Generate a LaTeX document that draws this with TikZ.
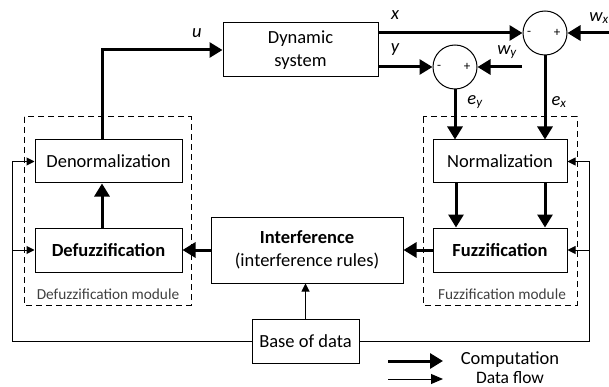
\documentclass[tikz,border=0pt]{standalone}
\usepackage{fontspec}
\setmainfont{Carlito}
\usetikzlibrary{arrows.meta}
\tikzset{
  block/.style={draw, line width=1pt, inner sep=0pt, align=center, font=\fontsize{18.5}{23.5}\selectfont},
  sumnode/.style={draw, circle, line width=1pt, minimum size=44pt, inner sep=0pt},
  module/.style={draw, line width=1pt, dash pattern=on 6pt off 4pt},
  comp/.style={line width=3pt, -{Triangle[length=13pt 0 0,width=15pt 0 0]}},
  flow/.style={line width=1pt, -{Triangle[length=8pt 0 0,width=8pt 0 0]}},
  lbl/.style={font=\fontsize{18.5}{22}\selectfont\itshape, inner sep=0pt},
  sgn/.style={font=\fontsize{13}{13}\selectfont, inner sep=0pt},
  modlbl/.style={font=\fontsize{15.3}{18}\selectfont, text=black!75, inner sep=0pt}
}
\begin{document}
\begin{tikzpicture}[x=1pt, y=-1pt]
    \useasboundingbox (0,0) rectangle (609,387);

    \draw[module] (24,117) rectangle (191,305);
    \draw[module] (423,117) rectangle (577,305);
    \node[modlbl] (defmod) at (108,294) {Defuzzification module};
    \node[modlbl] (fuzmod) at (502,294) {Fuzzification module};

    \node[block, minimum width=155pt, minimum height=54pt] (dyn) at (300.5,50) {Dynamic\\system};
    \node[block, minimum width=147pt, minimum height=43pt] (denorm) at (108.5,161.5) {Denormalization};
    \node[block, minimum width=147pt, minimum height=44pt] (defuzz) at (108.5,250) {\textbf{Defuzzification}};
    \node[block, minimum width=192pt, minimum height=66pt] (interf) at (307,250) {\textbf{Interference}\\(interference rules)};
    \node[block, minimum width=107pt, minimum height=44pt] (base) at (305.5,341) {Base of data};
    \node[block, minimum width=134pt, minimum height=43pt] (norm) at (500,161.5) {Normalization};
    \node[block, minimum width=134pt, minimum height=44pt] (fuzz) at (500,250) {\textbf{Fuzzification}};

    \node[sumnode] (sumx) at (545,33) {};
    \node[sumnode] (sumy) at (455,67) {};
    \node[sgn] at ([xshift=-16pt]sumx.center) {-};
    \node[sgn] at ([xshift=12pt]sumx.center) {+};
    \node[sgn] at ([xshift=-16pt]sumy.center) {-};
    \node[sgn] at ([xshift=12pt]sumy.center) {+};

    \coordinate (wxin) at (609,33);
    \coordinate (wyin) at (522,67);
    \coordinate (lbus) at (12,341);
    \coordinate (rbus) at (589,341);

    \node[lbl] (ulbl) at (197,33) {u};
    \node[lbl] (xlbl) at (395,15) {x};
    \node[lbl] (ylbl) at (395,50) {y};
    \node[lbl] (wxlbl) at (599,18) {w\textsubscript{x}};
    \node[lbl] (wylbl) at (507,52) {w\textsubscript{y}};
    \node[lbl] (eylbl) at (475,102) {e\textsubscript{y}};
    \node[lbl] (exlbl) at (559,102) {e\textsubscript{x}};

    \draw[comp] ([xshift=-6.5pt]denorm.north) |- (dyn.west);
    \draw[comp] ([xshift=-6.5pt]defuzz.north) -- ([xshift=-6.5pt]denorm.south);
    \draw[comp] (interf.west) -- (defuzz.east);
    \draw[comp] (fuzz.west) -- (interf.east);
    \draw[comp] ([xshift=-44pt]norm.south) -- ([xshift=-44pt]fuzz.north);
    \draw[comp] ([xshift=45pt]norm.south) -- ([xshift=45pt]fuzz.north);
    \draw[comp] (dyn.east |- sumx.west) -- (sumx.west);
    \draw[comp] (dyn.east |- sumy.west) -- (sumy.west);
    \draw[comp] (wxin) -- (sumx.east);
    \draw[comp] (wyin) -- (sumy.east);
    \draw[comp] (sumy.south) -- (sumy.south |- norm.north);
    \draw[comp] (sumx.south) -- (sumx.south |- norm.north);

    \draw[flow] (base.north) -- (base.north |- interf.south);
    \draw[line width=1pt] (base.west) -- (lbus) -- (lbus |- denorm.west);
    \draw[flow] (lbus |- denorm.west) -- (denorm.west);
    \draw[flow] (lbus |- defuzz.west) -- (defuzz.west);
    \draw[line width=1pt] (base.east) -- (rbus) -- (rbus |- norm.east);
    \draw[flow] (rbus |- norm.east) -- (norm.east);
    \draw[flow] (rbus |- fuzz.east) -- (fuzz.east);

    \coordinate (compA) at (388,361);
    \coordinate (compB) at (443,361);
    \coordinate (flowA) at (388,379);
    \coordinate (flowB) at (443,379);
    \draw[comp] (compA) -- (compB);
    \draw[line width=1pt, -{Triangle[length=12pt 0 0,width=10pt 0 0]}] (flowA) -- (flowB);
    \node[lbl, font=\fontsize{18.5}{22}\selectfont] (complbl) at (510,360) {Computation};
    \node[lbl, font=\fontsize{17.5}{20}\selectfont] (flowlbl) at (510,378) {Data flow};
\end{tikzpicture}
\end{document}
